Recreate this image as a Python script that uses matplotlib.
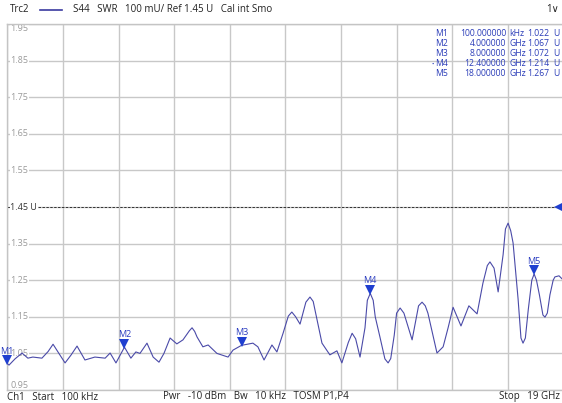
import numpy as np
import matplotlib
matplotlib.use('Agg')
import matplotlib.pyplot as plt
from matplotlib.transforms import offset_copy

plt.rcParams['font.family'] = ['Open Sans', 'DejaVu Sans']

# trace S44 SWR (GHz, U)
freq = [0.0001, 0.055, 0.26, 0.50, 0.70, 0.87, 1.18, 1.39, 1.56, 1.76, 1.97, 2.17, 2.38, 2.65,
        2.99, 3.34, 3.51, 3.71, 4.00, 4.22, 4.39, 4.53, 4.77, 4.98, 5.18, 5.35, 5.56, 5.79,
        6.00, 6.22, 6.31, 6.40, 6.48, 6.68, 6.86, 7.16, 7.54, 7.71, 8.00, 8.39, 8.56, 8.77,
        9.04, 9.21, 9.42, 9.60, 9.72, 9.85, 10.0, 10.20, 10.34, 10.45, 10.51, 10.75, 11.02,
        11.26, 11.43, 11.65, 11.78, 11.90, 12.05, 12.22, 12.30, 12.40, 12.50, 12.57, 12.73,
        12.90, 13.01, 13.10, 13.22, 13.30, 13.42, 13.55, 13.83, 14.05, 14.17, 14.28, 14.37,
        14.68, 14.89, 15.06, 15.23, 15.50, 15.77, 16.05, 16.25, 16.40, 16.49, 16.63, 16.77,
        16.94, 17.02, 17.11, 17.20, 17.28, 17.45, 17.55, 17.62, 17.70, 17.80, 17.92, 18.00,
        18.08, 18.18, 18.30, 18.37, 18.45, 18.54, 18.65, 18.71, 18.85, 19.0]
swr = [1.022, 1.018, 1.035, 1.051, 1.037, 1.040, 1.037, 1.055, 1.075, 1.050, 1.024, 1.045,
       1.070, 1.032, 1.040, 1.037, 1.051, 1.024, 1.067, 1.037, 1.054, 1.050, 1.078, 1.040,
       1.026, 1.050, 1.092, 1.076, 1.087, 1.112, 1.120, 1.110, 1.095, 1.068, 1.073, 1.050,
       1.040, 1.059, 1.072, 1.078, 1.068, 1.032, 1.073, 1.054, 1.105, 1.152, 1.163, 1.150,
       1.130, 1.190, 1.204, 1.192, 1.169, 1.078, 1.046, 1.057, 1.024, 1.080, 1.105, 1.090,
       1.040, 1.120, 1.195, 1.214, 1.195, 1.150, 1.095, 1.035, 1.024, 1.036, 1.100, 1.160,
       1.174, 1.160, 1.087, 1.180, 1.190, 1.180, 1.160, 1.051, 1.068, 1.120, 1.176, 1.125,
       1.180, 1.158, 1.242, 1.290, 1.300, 1.283, 1.218, 1.320, 1.390, 1.406, 1.385, 1.352,
       1.200, 1.092, 1.078, 1.092, 1.170, 1.250, 1.267, 1.250, 1.210, 1.155, 1.149, 1.160,
       1.210, 1.250, 1.259, 1.262, 1.250]

mk_names = ['M1', 'M2', 'M3', 'M4', 'M5']
mk_freq = [0.0001, 4.0, 8.0, 12.4, 18.0]
mk_val = [1.022, 1.067, 1.072, 1.214, 1.267]
mk_freq_txt = ['100.000000', '4.000000', '8.000000', '12.400000', '18.000000']
mk_unit = ['kHz', 'GHz', 'GHz', 'GHz', 'GHz']

yticks = [0.95, 1.05, 1.15, 1.25, 1.35, 1.45, 1.55, 1.65, 1.75, 1.85, 1.95]
ref_level = 1.45

W, H = 562, 403
fig = plt.figure(figsize=(W / 100, H / 100), dpi=100)
fig.patch.set_facecolor('white')

x0, x1, ytop, ybot = 7.4, 563.4, 24, 390
ax = fig.add_axes([x0 / W, (H - ybot) / H, (x1 - x0) / W, (ybot - ytop) / H])
ax.set_xlim(0, 19)
ax.set_ylim(0.95, 1.95)
for s in ax.spines.values():
    s.set_color('#c4c4c4')
    s.set_linewidth(1)
ax.set_xticks(np.linspace(0, 19, 11))
ax.set_yticks(yticks)
ax.tick_params(length=0, labelbottom=False, labelleft=False)
ax.grid(True, color='#c8c8c8', linewidth=1)
ax.set_axisbelow(True)

# reference line
ax.axhline(ref_level, color='#333333', linewidth=0.7, linestyle=(0, (2.5, 1.5)), zorder=2)

ax.plot(freq, swr, color='#4a4aa8', linewidth=0.8, zorder=3, solid_joinstyle='round')

# y labels drawn inside the grid
lab_tr = offset_copy(ax.transData, fig=fig, x=3, y=0, units='dots')
for v in yticks:
    if v == ref_level:
        txt, col = '1.45 U', '#333333'
    else:
        txt, col = '%.2f' % v, '#9a9a9a'
    va = 'center'
    if v == 0.95:
        va = 'bottom'
    if v == 1.95:
        va = 'top'
    ax.text(0, v, txt, transform=lab_tr, fontsize=6.5, color=col, va=va, ha='left',
            bbox=dict(facecolor='white', edgecolor='none', pad=0.6), zorder=2.5)

# markers
tri_tr = offset_copy(ax.transData, fig=fig, x=0, y=3.5, units='dots')
for n, f, v in zip(mk_names, mk_freq, mk_val):
    ax.plot(f, v, marker='v', markersize=6.5, color='#1f3fd0', transform=tri_tr,
            clip_on=False, zorder=5, markeredgewidth=0)
    dx = -1 if n == 'M1' else 0
    txt_tr = offset_copy(ax.transData, fig=fig, x=dx, y=8, units='dots')
    ax.text(f, v, n, transform=txt_tr, fontsize=6.5, color='#2a3cc0', ha='center',
            va='bottom', clip_on=False, zorder=5)

ref_tr = offset_copy(ax.transData, fig=fig, x=-4, y=0, units='dots')
ax.plot(19, ref_level, marker='<', markersize=6.5, color='#1f3fd0', transform=ref_tr,
        clip_on=False, zorder=5, markeredgewidth=0)

# marker table
tc = '#2a3cb8'
fs = 6.2
rows_y = [33, 44, 54, 64, 74]
for i in range(5):
    yy = 1 - rows_y[i] / H
    fig.text(448 / W, yy, mk_names[i], fontsize=fs, color=tc, ha='right', va='center')
    fig.text(506 / W, yy, mk_freq_txt[i], fontsize=fs, color=tc, ha='right', va='center')
    fig.text(509 / W, yy, mk_unit[i], fontsize=fs, color=tc, ha='left', va='center')
    fig.text(549 / W, yy, '%.3f' % mk_val[i], fontsize=fs, color=tc, ha='right', va='center')
    fig.text(553 / W, yy, 'U', fontsize=fs, color=tc, ha='left', va='center')
fig.text(433 / W, 1 - 64 / H, '\u2022', fontsize=4.5, color=tc, ha='center', va='center')

# header
hy = 1 - 10 / H
fig.text(10 / W, hy, 'Trc2', fontsize=7, color='#222222', va='center')
fig.add_artist(plt.Line2D([40 / W, 62 / W], [hy, hy], color='#3a3aa0', linewidth=1.2))
fig.text(73 / W, hy, 'S44   SWR   100 mU/ Ref 1.45 U   Cal int Smo', fontsize=7,
         color='#222222', va='center')
fig.text(546 / W, hy, '1\u2228', fontsize=7, color='#222222', va='center')

# footer
fy = 1 - 397 / H
fig.text(7 / W, fy, 'Ch1   Start   100 kHz', fontsize=7, color='#222222', va='center')
fig.text(163 / W, fy, 'Pwr   -10 dBm   Bw   10 kHz   TOSM P1,P4', fontsize=7,
         color='#222222', va='center')
fig.text(560 / W, fy, 'Stop   19 GHz', fontsize=7, color='#222222', va='center', ha='right')

fig.savefig('out.png', dpi=100)
